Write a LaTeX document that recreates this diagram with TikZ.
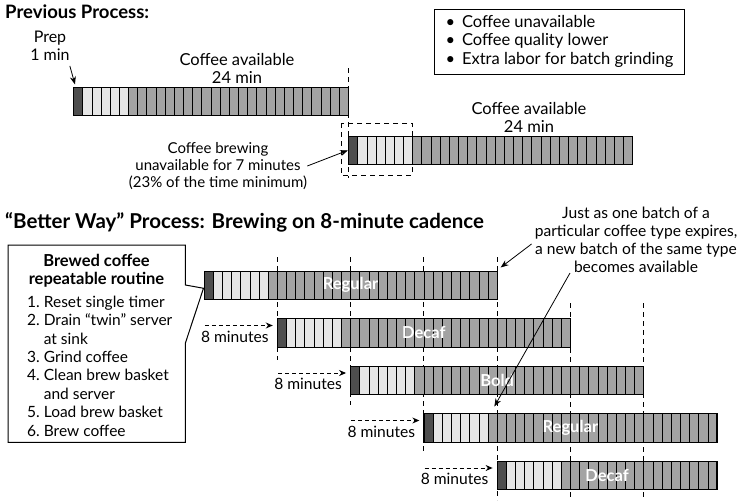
\documentclass[tikz,border=0pt]{standalone}
\usepackage{fontspec}
\setmainfont{Lato}
\usetikzlibrary{arrows.meta,calc,positioning}
\definecolor{prepfill}{RGB}{78,78,78}
\definecolor{brewfill}{RGB}{230,230,230}
\definecolor{readyfill}{RGB}{163,163,163}

\newcommand{\cellw}{9.16}
\newcommand{\cellh}{28.5}
% one batch: name, left, top, brewing cells, ready cells, label
\newcommand{\batchbar}[6]{%
  \pgfmathsetmacro{\barlen}{(1+#4+#5)*\cellw}
  \filldraw[cell,fill=prepfill] (#2,#3) rectangle ++(\cellw,\cellh);
  \foreach \k in {1,...,#4}
    \filldraw[cell,fill=brewfill] ({#2+\k*\cellw},#3) rectangle ++(\cellw,\cellh);
  \foreach \k in {1,...,#5}
    \filldraw[cell,fill=readyfill] ({#2+(#4+\k)*\cellw},#3) rectangle ++(\cellw,\cellh);
  \node[barframe,minimum width=\barlen pt] (#1) at ({#2+\barlen/2},{#3+\cellh/2}) {#6};
}

\begin{document}
\begin{tikzpicture}[
  x=1pt,y=-1pt,
  font=\fontsize{16}{18}\selectfont,
  cell/.style={draw=black,line width=0.6pt},
  barframe/.style={
    draw=black,
    line width=1pt,
    inner sep=0pt,
    minimum height=\cellh pt,
    text=white,
    font=\fontsize{16.5}{18}\selectfont\bfseries
  },
  heading/.style={anchor=base west,inner sep=0pt,font=\fontsize{18.5}{20}\selectfont\bfseries},
  note/.style={align=center,inner sep=0pt},
  guide/.style={draw=black,line width=0.9pt,dash pattern=on 5pt off 4pt},
  minarrow/.style={
    draw=black,
    line width=0.9pt,
    dash pattern=on 4pt off 3pt,
    -{Stealth[length=7pt,width=6pt]}
  },
  callarrow/.style={draw=black,line width=0.8pt,-{Stealth[length=8pt,width=6pt]}}
]
\useasboundingbox (0,0) rectangle (744,501);

% Previous process
\node[heading] (prevtitle) at (5,18) {Previous Process:};
\node[note] (prep) at (50,46) {Prep\\1 min};
\node[note,font=\fontsize{16.5}{18}\selectfont] (availA) at (237,68) {Coffee available\\24 min};
\node[note,font=\fontsize{16.5}{18}\selectfont] (availB) at (529,117) {Coffee available\\24 min};
\node[draw=black,line width=1pt,anchor=north west,inner xsep=11pt,inner ysep=0pt,
  minimum height=65,font=\fontsize{16.5}{18.5}\selectfont] (problems) at (434,9)
  {\begin{tabular}{@{}l@{\hspace{7pt}}l@{}}
   \textbullet & Coffee unavailable\\
   \textbullet & Coffee quality lower\\
   \textbullet & Extra labor for batch grinding
   \end{tabular}};
\node[note,font=\fontsize{15}{17.2}\selectfont] (brewing) at (218,166)
  {Coffee brewing\\unavailable for 7 minutes\\(23\% of the time minimum)};

\draw[guide] (348.5,68) -- (348.5,178);
\draw[guide] (341,123) rectangle (412,175);

\batchbar{topA}{73.5}{87}{5}{24}{}
\batchbar{topB}{348.5}{136}{6}{24}{}

\draw[callarrow] ([yshift=-5pt]prep.south east) -- ([xshift=2pt,yshift=2pt]topA.north west);
\draw[callarrow] (brewing.east) -- (topB.west);

% Better way process
\node[heading,font=\fontsize{20.5}{22}\selectfont\bfseries] (bettertitle) at (5,228)
  {“Better Way” Process: Brewing on 8-minute cadence};
\node[note,font=\fontsize{15.6}{18}\selectfont] (justas) at (636,240)
  {Just as one batch of a\\particular coffee type expires,\\a new batch of the same type\\becomes available};

\foreach \gx/\gtop/\gbot in {277.28/257/360,350.56/257/405,423.84/257/453,
  497.12/257/500,570.4/303/500,643.68/303/500}
  \draw[guide] (\gx,\gtop) -- (\gx,\gbot);

\batchbar{regularA}{204}{271}{6}{25}{Regular}
\batchbar{decafA}{277.28}{318.5}{6}{25}{Decaf}
\batchbar{boldA}{350.56}{366}{6}{25}{Bold}
\batchbar{regularB}{423.84}{413.5}{6}{25}{Regular}
\batchbar{decafB}{497.12}{461}{6}{17}{Decaf}

\foreach \row in {decafA,boldA,regularB,decafB}{
  \draw[minarrow] ($(\row.north west)+(-72,7.5)$) -- ($(\row.north west)+(-4,7.5)$);
  \node[anchor=east,inner sep=0pt,font=\fontsize{15.6}{18}\selectfont] (eight-\row)
    at ($(\row.north west)+(-8,18.5)$) {8 minutes};
}

% routine callout
\node[minimum width=177,minimum height=197,anchor=north west,inner sep=0pt] (routine) at (8,245) {};
\draw[line width=1pt] (routine.north west) -- (routine.north east) -- ++(0,40)
  -- ([yshift=-3pt]regularA.west) -- ($(routine.north east)+(0,98)$)
  -- (routine.south east) -- (routine.south west) -- cycle;
\node[note,font=\fontsize{16.5}{18}\selectfont\bfseries] (routinehead) at (96.5,271)
  {Brewed coffee\\repeatable routine};
\node[anchor=west,inner sep=0pt,font=\fontsize{15.5}{18.4}\selectfont] (routinesteps) at (27,368)
  {\begin{tabular}{@{}l@{\hspace{4pt}}l@{}}
   1. & Reset single timer\\
   2. & Drain “twin” server\\
      & at sink\\
   3. & Grind coffee\\
   4. & Clean brew basket\\
      & and server\\
   5. & Load brew basket\\
   6. & Brew coffee
   \end{tabular}};

\coordinate (newbatch) at ($(regularB.north west)+(71,-6.5)$);
\draw[callarrow] ([xshift=-3pt,yshift=-4pt]justas.west) -- ([xshift=3pt,yshift=3pt]regularA.north east);
\draw[callarrow] ([xshift=-66pt]justas.south) -- (newbatch);

\end{tikzpicture}
\end{document}
